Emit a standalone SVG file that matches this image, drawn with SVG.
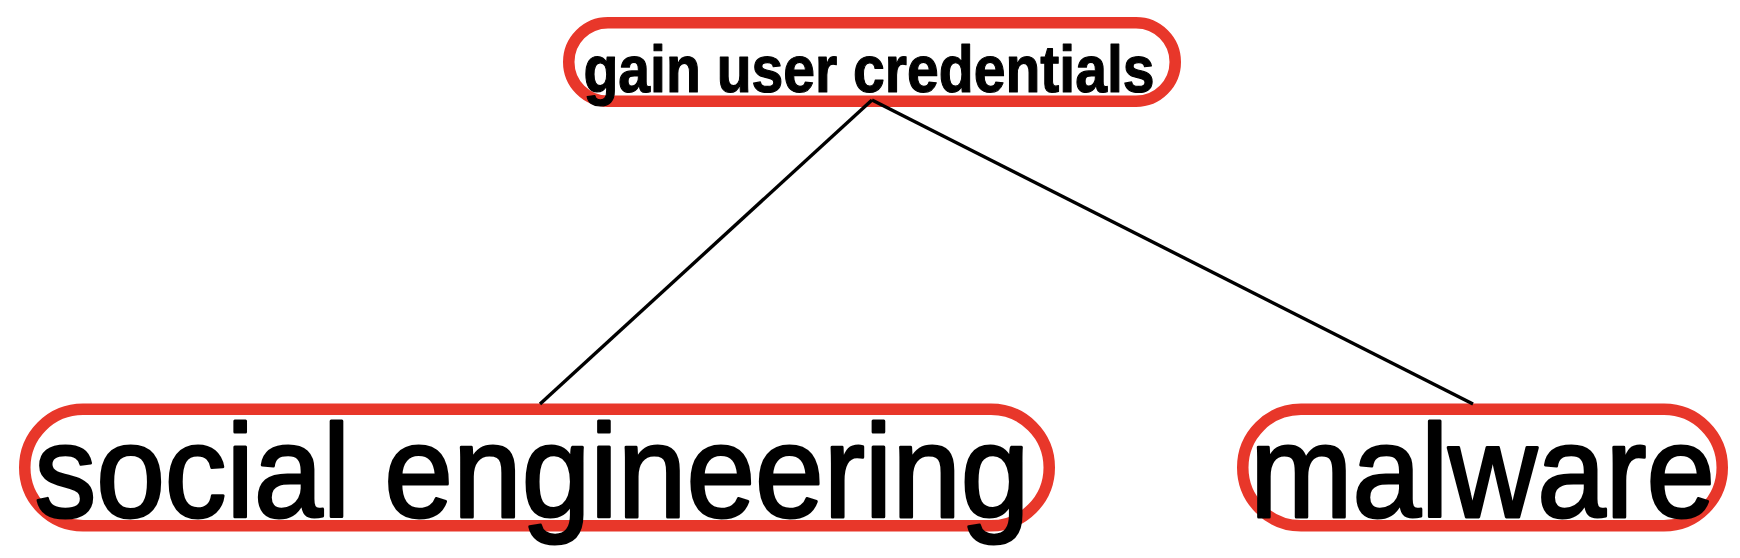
<svg xmlns="http://www.w3.org/2000/svg" width="1740" height="558" viewBox="0 0 1740 558">
<style>
.pill{fill:none;stroke:#e8372a;stroke-width:11.5}
.t{font-family:"Liberation Sans",Arial,Helvetica,sans-serif;fill:#000;stroke:#000;stroke-linejoin:round}
.big{font-size:132px;stroke-width:3}
.small{font-size:66px;font-weight:bold;stroke-width:1.2}
.edge{stroke:#000;stroke-width:3.4;fill:none}
</style>
<rect width="1740" height="558" fill="#fff"/>
<g id="node-gain">
<rect class="pill" x="568.75" y="22.75" width="606.5" height="78.5" rx="39.25"/>
<text class="t small" x="583.5" y="92" textLength="571" lengthAdjust="spacingAndGlyphs">gain user credentials</text>
</g>
<g id="node-social">
<rect class="pill" x="24.75" y="409.25" width="1024.5" height="116.5" rx="58.25"/>
<text class="t big" x="34.5" y="517" textLength="995" lengthAdjust="spacingAndGlyphs">social engineering</text>
</g>
<g id="node-malware">
<rect class="pill" x="1242.75" y="409.25" width="479.5" height="116.5" rx="58.25"/>
<text class="t big" x="1250" y="517" textLength="465" lengthAdjust="spacingAndGlyphs">malware</text>
</g>
<g id="connectors">
<line class="edge" x1="872" y1="100" x2="540" y2="404"/>
<line class="edge" x1="872" y1="100" x2="1473" y2="404"/>
</g>
</svg>
